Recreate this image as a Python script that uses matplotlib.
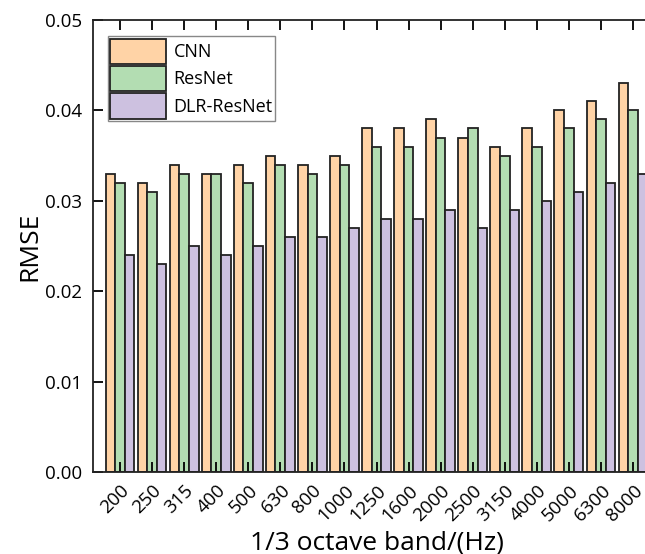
import numpy as np
import matplotlib
matplotlib.use("Agg")
import matplotlib.pyplot as plt
from matplotlib.ticker import FormatStrFormatter

# ---- data ----
bands = ["200", "250", "315", "400", "500", "630", "800", "1000", "1250",
         "1600", "2000", "2500", "3150", "4000", "5000", "6300", "8000"]
cnn = [0.033, 0.032, 0.034, 0.033, 0.034, 0.035, 0.034, 0.035, 0.038,
       0.038, 0.039, 0.037, 0.036, 0.038, 0.040, 0.041, 0.043]
resnet = [0.032, 0.031, 0.033, 0.033, 0.032, 0.034, 0.033, 0.034, 0.036,
          0.036, 0.037, 0.038, 0.035, 0.036, 0.038, 0.039, 0.040]
dlr_resnet = [0.024, 0.023, 0.025, 0.024, 0.025, 0.026, 0.026, 0.027, 0.028,
              0.028, 0.029, 0.027, 0.029, 0.030, 0.031, 0.032, 0.033]

plt.rcParams["font.family"] = ["Open Sans", "DejaVu Sans"]

fig = plt.figure(figsize=(6.45, 5.54), dpi=100)
# axes runs past the right edge like the cropped original
ax = fig.add_axes([93 / 645, 82 / 554, 567 / 645, 452 / 554])

x = np.arange(len(bands))
w = 0.3
edge = "#222222"
ax.bar(x - w, cnn, w, color="#FFD3A6", edgecolor=edge, linewidth=1.3, label="CNN")
ax.bar(x, resnet, w, color="#B3DDB2", edgecolor=edge, linewidth=1.3, label="ResNet")
ax.bar(x + w, dlr_resnet, w, color="#CDC1E0", edgecolor=edge, linewidth=1.3, label="DLR-ResNet")

ax.set_xlim(-0.84, len(bands) - 1 + 0.84)
ax.set_ylim(0, 0.05)
ax.set_yticks(np.arange(0, 0.051, 0.01))
ax.yaxis.set_major_formatter(FormatStrFormatter("%.2f"))
ax.set_xticks(x)
ax.set_xticklabels(bands, rotation=45, ha="right", rotation_mode="anchor")

ax.tick_params(axis="both", direction="in", length=7, width=1.3, labelsize=13.5)
ax.tick_params(axis="x", top=True, pad=7)
ax.tick_params(axis="y", pad=8)
for s in ax.spines.values():
    s.set_linewidth(1.3)
    s.set_color("#222222")

ax.set_ylabel("RMSE", fontsize=19, labelpad=2)
ax.set_xlabel("1/3 octave band/(Hz)", fontsize=19, labelpad=4)

leg = ax.legend(loc="upper left", bbox_to_anchor=(0.026, 0.965), fontsize=13,
                fancybox=False, edgecolor="#888888", framealpha=1,
                handlelength=3.1, handleheight=1.8, handletextpad=0.4,
                labelspacing=0.1, borderpad=0.15, borderaxespad=0.0)
leg.get_frame().set_linewidth(1.0)

plt.savefig("out.png", dpi=100)
